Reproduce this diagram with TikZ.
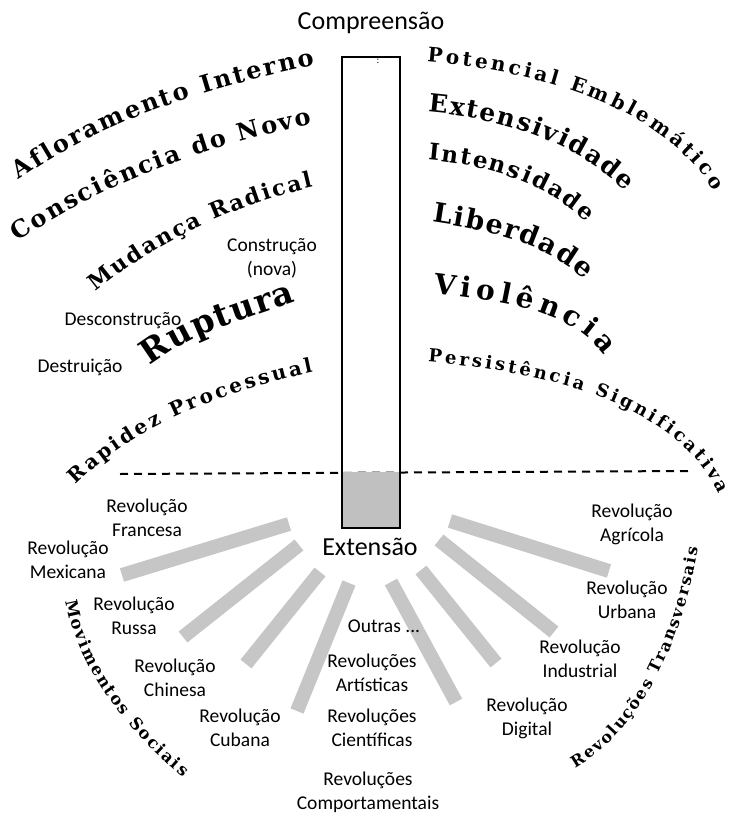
\documentclass[tikz,border=0pt]{standalone}
\usepackage{fontspec}
\usetikzlibrary{decorations.text}

\newfontfamily\calib{Carlito}
\newfontfamily\arte{DejaVu Serif}

\definecolor{spoke}{RGB}{198,198,198}
\definecolor{boxgray}{RGB}{192,192,192}

\tikzset{
  revtxt/.style={inner sep=0pt, align=center, font=\calib\fontsize{19.5}{24}\selectfont},
  bigtxt/.style={inner sep=0pt, font=\calib\fontsize{26}{31}\selectfont},
  spokebar/.style={line width=14pt, draw=spoke},
  curved/.style 2 args={decorate, decoration={text along path, text align=fit to path,
      text={|\arte\bfseries\fontsize{#1}{#1}\selectfont|#2}}},
}

\begin{document}
\begin{tikzpicture}[x=1pt, y=-1pt, line cap=butt, line join=miter]

  % ── 虚线（分界）──
  \coordinate (dl) at (120,474);
  \coordinate (dr) at (688,471);
  \draw[line width=2pt, dash pattern=on 8pt off 6pt] (dl) -- (dr);

  % ── 中间的长方形 ──
  \coordinate (bx1) at (342,57);
  \coordinate (bx2) at (400,528);
  \coordinate (gz) at (342,472);
  \fill[boxgray] (gz) rectangle (bx2);
  \draw[line width=2pt] (bx1) rectangle (bx2);
  \node[inner sep=0pt, font=\calib\fontsize{10}{10}\selectfont] (dots) at (378,61) {:};

  \node[bigtxt] (comp) at (371,23) {Compreensão};
  \node[bigtxt] (ext) at (370,547) {Extensão};

  % ── 灰色辐条 ──
  \coordinate (s1) at (289,524); \coordinate (e1) at (122,575);
  \coordinate (s2) at (299,545); \coordinate (e2) at (183,637);
  \coordinate (s3) at (320,572); \coordinate (e3) at (246,664);
  \coordinate (s4) at (349,583); \coordinate (e4) at (297,711);
  \coordinate (s5) at (450,521); \coordinate (e5) at (609,571);
  \coordinate (s6) at (439,540); \coordinate (e6) at (554,632);
  \coordinate (s7) at (421,570); \coordinate (e7) at (496,663);
  \coordinate (s8) at (391,582); \coordinate (e8) at (456,702);
  \foreach \i in {1,...,8}
     \draw[spokebar] (s\i) -- (e\i);

  % ── 左上：弯曲的大字 ──
  \path[curved={24}{Afloramento Interno}] (19,180) .. controls (106,119) and (211,87) .. (315,65);
  \path[curved={24}{Consciência do Novo}] (18,242) .. controls (105,181) and (208,146) .. (312,124);
  \path[curved={22}{Mudança Radical}] (96,292) .. controls (157,241) and (235,205) .. (313,187);
  \path[curved={33}{Ruptura}] (150,366) .. controls (192,333) and (246,319) .. (296,301);
  \path[curved={20}{Rapidez Processual}] (76,485) .. controls (138,423) and (228,390) .. (313,372);

  % ── 右上 ──
  \path[curved={20}{Potencial Emblemático}] (427,62) .. controls (532,71) and (658,102) .. (714,191);
  \path[curved={25}{Extensividade}] (428,112) .. controls (499,118) and (575,141) .. (625,191);
  \path[curved={23}{Intensidade}] (428,160) .. controls (485,165) and (546,182) .. (586,222);
  \path[curved={27}{Liberdade}] (432,222) .. controls (485,230) and (546,242) .. (584,280);
  \path[curved={28}{Violência}] (433,293) .. controls (493,301) and (569,306) .. (604,356);
  \path[curved={18}{Persistência Significativa}] (428,362) .. controls (536,371) and (674,399) .. (719,494);

  % ── 下方两条弧形标题 ──
  \path[curved={16.5}{Movimentos Sociais}] (66,601) .. controls (78,670) and (129,732) .. (183,777);
  \path[curved={16}{Revoluções Transversais}] (575,768) .. controls (648,726) and (684,631) .. (698,548);

  % ── 小字标签 ──
  \node[revtxt] (constr) at (272,258) {Construção\\(nova)};
  \node[revtxt] (descon) at (123,321) {Desconstrução};
  \node[revtxt] (destr) at (80,367) {Destruição};

  \node[revtxt] (franc) at (147,518) {Revolução\\Francesa};
  \node[revtxt] (mexic) at (68,560) {Revolução\\Mexicana};
  \node[revtxt] (russa) at (134,616) {Revolução\\Russa};
  \node[revtxt] (chin) at (175,678) {Revolução\\Chinesa};
  \node[revtxt] (cuba) at (240,728) {Revolução\\Cubana};

  \node[revtxt] (outras) at (384,626) {Outras ...};
  \node[revtxt] (artis) at (372,673) {Revoluções\\Artísticas};
  \node[revtxt] (cient) at (372,728) {Revoluções\\Científicas};
  \node[revtxt] (compt) at (368,792) {Revoluções\\Comportamentais};

  \node[revtxt] (agric) at (632,524) {Revolução\\Agrícola};
  \node[revtxt] (urban) at (627,600) {Revolução\\Urbana};
  \node[revtxt] (indus) at (580,659) {Revolução\\Industrial};
  \node[revtxt] (digit) at (527,718) {Revolução\\Digital};

  \path[use as bounding box] (0,0) rectangle (731,814);
\end{tikzpicture}
\end{document}
